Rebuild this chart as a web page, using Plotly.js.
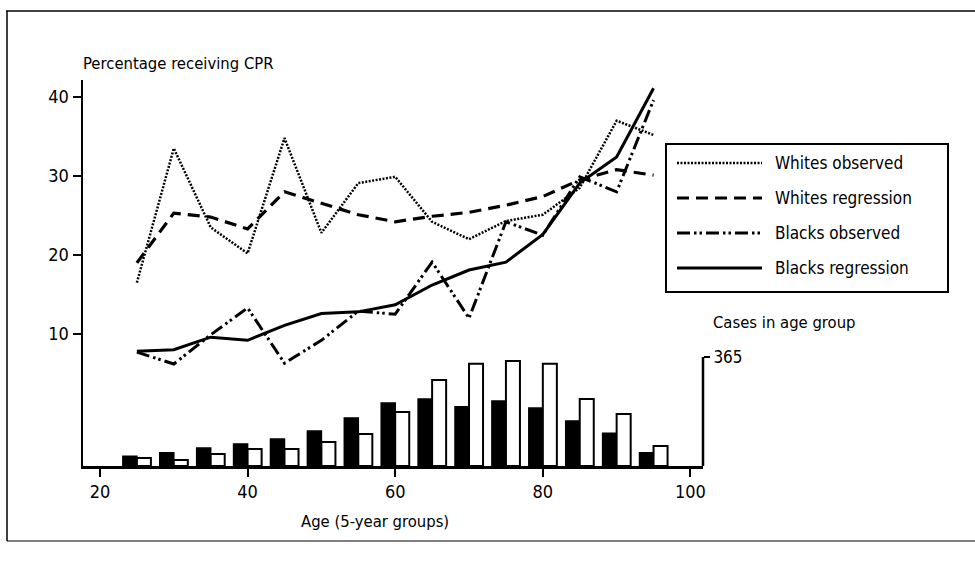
<!DOCTYPE html>
<html>
<head>
<meta charset="utf-8">
<script src="https://cdn.plot.ly/plotly-3.0.1.min.js"></script>
<style>
html,body{margin:0;padding:0;background:#fff;}
#chart{width:975px;height:562px;}
</style>
</head>
<body>
<div id="chart"></div>
<script>
// ---- data ----
const ages = [25, 30, 35, 40, 45, 50, 55, 60, 65, 70, 75, 80, 85, 90, 95];
const whitesObserved   = [16.5, 33.5, 23.5, 20.2, 34.8, 22.8, 29.1, 29.9, 24.2, 22.0, 24.3, 25.1, 28.5, 37.0, 35.2];
const whitesRegression = [19.0, 25.3, 24.8, 23.3, 28.0, 26.6, 25.1, 24.2, 24.9, 25.4, 26.3, 27.4, 29.5, 30.8, 30.1];
const blacksObserved   = [7.7, 6.2, 9.9, 13.3, 6.3, 9.2, 12.9, 12.5, 19.1, 12.0, 24.2, 22.5, 29.9, 28.0, 39.6];
const blacksRegression = [7.8, 8.0, 9.6, 9.2, 11.1, 12.6, 12.8, 13.7, 16.2, 18.1, 19.1, 22.6, 29.1, 32.4, 41.1];
const blackCases = [33, 44, 60, 74, 90, 117, 161, 211, 224, 198, 218, 194, 151, 110, 44];
const whiteCases = [27, 20, 40, 57, 57, 80, 107, 181, 288, 342, 352, 342, 224, 174, 67];
const xTicks = [20, 40, 60, 80, 100];
const yTicks = [10, 20, 30, 40];
const casesTick = [365];
const legendNames = ["Whites observed", "Whites regression", "Blacks observed", "Blacks regression"];

// ---- layout geometry (pixels) ----
const W = 975, H = 562;
const L = 83, R = 703, T = 80, B = 466;
const pw = R - L, ph = B - T;
const px = x => (x - L) / pw;
const py = y => (B - y) / ph;

const FONT = "DejaVu Sans Condensed, Liberation Sans Narrow, Arial Narrow, sans-serif";

const styles = [
  {width: 2.5, dash: "2px,1.5px"},
  {width: 3.2, dash: "12px,7px"},
  {width: 3, dash: "13px,4px,2.5px,3px,2.5px,4px"},
  {width: 3, dash: "solid"}
];
const series = [whitesObserved, whitesRegression, blacksObserved, blacksRegression];

const traces = [];
traces.push({
  type: "bar", x: ages, y: blackCases, yaxis: "y2", width: 1.9, offset: -1.9,
  marker: {color: "#000", line: {color: "#000", width: 1.5}}, showlegend: false, hoverinfo: "skip"
});
traces.push({
  type: "bar", x: ages, y: whiteCases, yaxis: "y2", width: 1.9, offset: 0,
  marker: {color: "#fff", line: {color: "#000", width: 2}}, showlegend: false, hoverinfo: "skip"
});
series.forEach((s, i) => {
  traces.push({
    type: "scatter", mode: "lines", x: ages, y: s, name: legendNames[i],
    line: {color: "#000", width: styles[i].width, dash: styles[i].dash},
    showlegend: false
  });
});

const shapes = [
  // outer frame
  {type: "line", xref: "paper", yref: "paper", x0: px(6), x1: px(W), y0: py(11), y1: py(11), line: {color: "#000", width: 1.5}},
  {type: "line", xref: "paper", yref: "paper", x0: px(7), x1: px(7), y0: py(11), y1: py(541), line: {color: "#000", width: 1.5}},
  {type: "line", xref: "paper", yref: "paper", x0: px(7), x1: px(W), y0: py(541), y1: py(541), line: {color: "#000", width: 1}},
  // right cases axis line
  {type: "line", xref: "paper", yref: "y2", x0: 1, x1: 1, y0: 0, y1: casesTick[0], line: {color: "#000", width: 2.5}},
  // legend box
  {type: "rect", xref: "paper", yref: "paper", x0: px(666), x1: px(948), y0: py(144), y1: py(292), line: {color: "#000", width: 2}, fillcolor: "#fff"}
];
const annotations = [
  {xref: "paper", yref: "paper", x: px(81), y: py(63), text: "Percentage receiving CPR", showarrow: false, xanchor: "left", yanchor: "middle", font: {family: FONT, size: 16.5, color: "#000"}},
  {xref: "paper", yref: "paper", x: px(375), y: py(521), text: "Age (5-year groups)", showarrow: false, xanchor: "center", yanchor: "middle", font: {family: FONT, size: 16.5, color: "#000"}},
  {xref: "paper", yref: "paper", x: px(711), y: py(322), text: "Cases in age group", showarrow: false, xanchor: "left", yanchor: "middle", font: {family: FONT, size: 16.5, color: "#000"}}
];
const legendY = [163, 198, 233, 268];
legendNames.forEach((n, i) => {
  shapes.push({type: "line", xref: "paper", yref: "paper", x0: px(677), x1: px(762), y0: py(legendY[i]), y1: py(legendY[i]),
    line: {color: "#000", width: styles[i].width, dash: styles[i].dash}});
  annotations.push({xref: "paper", yref: "paper", x: px(773), y: py(legendY[i]), text: n, showarrow: false,
    xanchor: "left", yanchor: "middle", font: {family: FONT, size: 17, color: "#000"}});
});

const layout = {
  width: W, height: H,
  margin: {l: L, r: W - R, t: T, b: H - B, pad: 0},
  paper_bgcolor: "#fff", plot_bgcolor: "#fff",
  showlegend: false,
  barmode: "overlay",
  font: {family: FONT, size: 16, color: "#000"},
  xaxis: {
    range: [17.7, 101.7], tickvals: xTicks, ticks: "outside", ticklen: 8, tickwidth: 2, tickcolor: "#000",
    showline: true, linecolor: "#000", linewidth: 2.5, showgrid: false, zeroline: false,
    tickfont: {family: FONT, size: 18, color: "#000"}
  },
  yaxis: {
    range: [-6.71, 42.15], tickvals: yTicks, ticks: "outside", ticklen: 8, tickwidth: 2, tickcolor: "#000",
    showline: true, linecolor: "#000", linewidth: 2.5, showgrid: false, zeroline: false,
    tickfont: {family: FONT, size: 18, color: "#000"}
  },
  yaxis2: {
    overlaying: "y", side: "right", range: [0, 365 * ph / 109], tickvals: casesTick, ticktext: casesTick.map(String),
    ticks: "outside", ticklen: 6, tickwidth: 2, tickcolor: "#000", showline: false, showgrid: false, zeroline: false,
    tickfont: {family: FONT, size: 17, color: "#000"}
  },
  shapes: shapes,
  annotations: annotations
};

Plotly.newPlot("chart", traces, layout, {displayModeBar: false, staticPlot: true});
</script>
</body>
</html>
